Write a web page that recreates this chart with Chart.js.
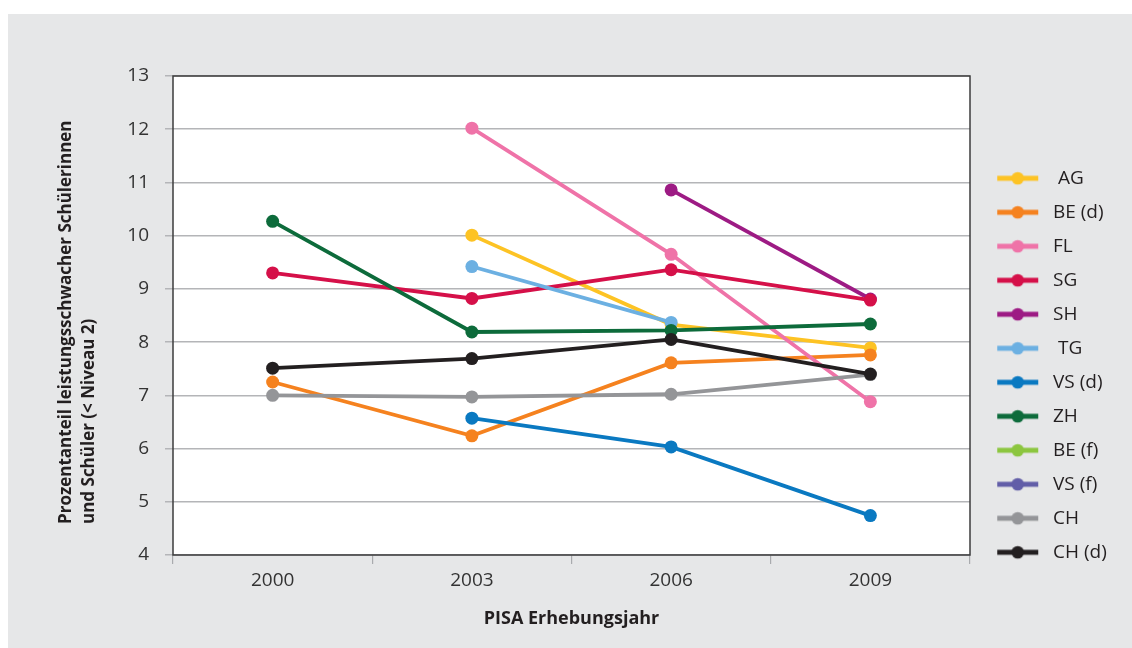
<!DOCTYPE html>
<html lang="de">
<head>
<meta charset="utf-8">
<title>Leistungsschwache Schülerinnen und Schüler – PISA</title>
<script src="https://cdn.jsdelivr.net/npm/chart.js@4.4.1/dist/chart.umd.min.js"></script>
<style>
  html, body { margin: 0; padding: 0; background: #ffffff; overflow: hidden; }
  #panel { position: absolute; left: 8px; top: 14px; width: 1124px; height: 634px; background: #e6e7e8; }
  #chart { display: block; }
</style>
</head>
<body>
<div id="panel"><canvas id="chart" width="1124" height="634"></canvas></div>
<script>
// Erhebungsjahre (Kategorien der x-Achse)
const years = ['2000', '2003', '2006', '2009'];

// Prozentanteil leistungsschwacher Schülerinnen und Schüler (< Niveau 2)
const AG   = [null, 10.01, 8.33, 7.89];
const BE_d = [7.25, 6.24, 7.61, 7.76];
const FL   = [null, 12.02, 9.65, 6.88];
const SG   = [9.30, 8.82, 9.36, 8.79];
const SH   = [null, null, 10.86, 8.81];
const TG   = [null, 9.42, 8.37, null];
const VS_d = [null, 6.57, 6.03, 4.74];
const ZH   = [10.27, 8.19, 8.22, 8.34];
const BE_f = [null, null, null, null];
const VS_f = [null, null, null, null];
const CH   = [7.00, 6.97, 7.02, 7.39];
const CH_d = [7.51, 7.69, 8.05, 7.40];

// Serienbezeichnungen in Legendenreihenfolge
const seriesLabels = [' AG', 'BE (d)', 'FL', 'SG', 'SH', ' TG', 'VS (d)', 'ZH', 'BE (f)', 'VS (f)', 'CH', 'CH (d)'];
const seriesValues = [AG, BE_d, FL, SG, SH, TG, VS_d, ZH, BE_f, VS_f, CH, CH_d];
const seriesColors = ['#fdc324', '#f5821f', '#ef73a8', '#d51049', '#9d1b84', '#6cb0e2',
                      '#0a79c1', '#0d6b3b', '#8cc63f', '#625ea8', '#949598', '#231f20'];
// Zeichenreihenfolge (kleinere Werte liegen oben); SG liegt über SH
const drawOrder = [0, -1, -2, -4.5, -4, -5, -6, -7, -8, -9, -10, -11];

// y-Achse
const yMin = 4, yMax = 13, yStep = 1;

const FONT = '"Open Sans", "Noto Sans", sans-serif';
const TEXT = '#231f20';

// Geometrie der Legende (rechts neben der Zeichenfläche)
const CANVAS_W = 1124;
const PLOT_RIGHT = 962;
const LEGEND_SIZE = 19;
const LEGEND_PAD = 15;
const LEGEND_BOX = 58.5;

// Breite der Legende aus der längsten Beschriftung
function legendWidth() {
  const m = document.createElement('canvas').getContext('2d');
  m.font = LEGEND_SIZE + 'px ' + FONT;
  const widest = Math.max(...seriesLabels.map(t => m.measureText(t).width));
  return LEGEND_PAD + LEGEND_BOX + LEGEND_SIZE / 2 + widest + 10;
}

// Weisse Zeichenfläche mit dunklem Rahmen
const plotFrame = {
  id: 'plotFrame',
  beforeDraw(chart, args, opts) {
    const { ctx, chartArea: a } = chart;
    ctx.save();
    ctx.fillStyle = opts.fill;
    ctx.fillRect(a.left, a.top, a.width, a.height);
    ctx.restore();
  },
  beforeDatasetsDraw(chart, args, opts) {
    const { ctx, chartArea: a } = chart;
    ctx.save();
    ctx.strokeStyle = opts.stroke;
    ctx.lineWidth = opts.width;
    ctx.strokeRect(a.left, a.top, a.width, a.height);
    ctx.restore();
  }
};

// Zweizeiliger, unten bündiger Titel der y-Achse
const sideTitle = {
  id: 'sideTitle',
  afterDraw(chart, args, opts) {
    const { ctx, chartArea: a } = chart;
    ctx.save();
    ctx.font = 'bold ' + opts.size + 'px ' + FONT;
    ctx.fillStyle = opts.color;
    ctx.textAlign = 'left';
    ctx.textBaseline = 'middle';
    opts.lines.forEach((line, i) => {
      ctx.save();
      ctx.translate(opts.x + i * opts.gap, a.bottom - opts.inset);
      ctx.rotate(-Math.PI / 2);
      ctx.fillText(line, 0, 0);
      ctx.restore();
    });
    ctx.restore();
  }
};

// Legendensymbol: kurze Linie mit Punkt
function legendGlyph(color) {
  const c = document.createElement('canvas');
  c.width = 58; c.height = 16;
  const g = c.getContext('2d');
  g.strokeStyle = color;
  g.lineWidth = 5;
  g.beginPath(); g.moveTo(12, 8); g.lineTo(53, 8); g.stroke();
  g.fillStyle = color;
  g.beginPath(); g.arc(32.5, 8, 6.3, 0, Math.PI * 2); g.fill();
  return c;
}
const glyphs = seriesColors.map(legendGlyph);

const datasets = seriesLabels.map((label, i) => ({
  label,
  data: seriesValues[i],
  borderColor: seriesColors[i],
  backgroundColor: seriesColors[i],
  pointBackgroundColor: seriesColors[i],
  pointBorderWidth: 0,
  pointRadius: 6.5,
  pointHoverRadius: 6.5,
  borderWidth: 3.8,
  tension: 0,
  order: drawOrder[i]
}));

new Chart(document.getElementById('chart'), {
  type: 'line',
  data: { labels: years, datasets },
  plugins: [plotFrame, sideTitle],
  options: {
    responsive: false,
    animation: false,
    layout: { padding: { top: 62, right: CANVAS_W - PLOT_RIGHT - legendWidth(), bottom: 18, left: 0 } },
    scales: {
      x: {
        type: 'category',
        offset: true,
        afterFit(s) { s.height = 75; },
        grid: {
          offset: true,
          drawOnChartArea: false,
          drawTicks: true,
          tickLength: 9,
          color: '#a9abae',
          lineWidth: 1.2
        },
        border: { display: false },
        ticks: { font: { family: FONT, size: 19 }, color: '#333333', padding: 5.5 },
        title: {
          display: true,
          text: 'PISA Erhebungsjahr',
          font: { family: FONT, size: 18, weight: 'bold', lineHeight: 1.2 },
          color: TEXT,
          padding: { top: 0, bottom: 0 }
        }
      },
      y: {
        min: yMin,
        max: yMax,
        afterFit(s) { s.width = 165; },
        grid: {
          color: '#b4b5b8',
          lineWidth: 1.5,
          tickLength: 8,
          drawTicks: true
        },
        border: { display: false },
        ticks: {
          stepSize: yStep,
          font: { family: FONT, size: 19 },
          color: '#333333',
          padding: 16
        }
      }
    },
    plugins: {
      plotFrame: { fill: '#ffffff', stroke: '#3d3d3d', width: 1.5 },
      sideTitle: {
        lines: ['Prozentanteil leistungsschwacher Schülerinnen', 'und Schüler (< Niveau 2)'],
        size: 17, color: TEXT, x: 58, gap: 23, inset: 31
      },
      tooltip: { enabled: false },
      legend: {
        position: 'right',
        align: 'start',
        title: { display: true, text: '', font: { size: 1, lineHeight: 1 }, padding: { top: 76.8, bottom: 0 } },
        labels: {
          usePointStyle: true,
          pointStyleWidth: LEGEND_BOX,
          padding: LEGEND_PAD,
          color: TEXT,
          font: { family: FONT, size: LEGEND_SIZE },
          generateLabels(chart) {
            return chart.data.datasets.map((ds, i) => ({
              text: ds.label,
              pointStyle: glyphs[i],
              fillStyle: ds.borderColor,
              strokeStyle: ds.borderColor,
              lineWidth: 0,
              fontColor: TEXT,
              hidden: !chart.isDatasetVisible(i),
              datasetIndex: i
            }));
          }
        }
      }
    }
  }
});
</script>
</body>
</html>
